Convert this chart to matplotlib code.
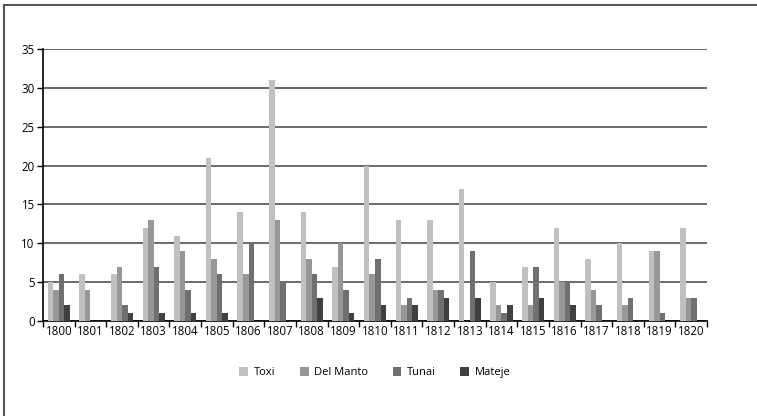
import matplotlib.pyplot as plt
import numpy as np
from matplotlib.lines import Line2D

years = [str(y) for y in range(1800, 1821)]
toxi = [5, 6, 6, 12, 11, 21, 14, 31, 14, 7, 20, 13, 13, 17, 5, 7, 12, 8, 10, 9, 12]
del_manto = [4, 4, 7, 13, 9, 8, 6, 13, 8, 10, 6, 2, 4, 0, 2, 2, 5, 4, 2, 9, 3]
tunai = [6, 0, 2, 7, 4, 6, 10, 5, 6, 4, 8, 3, 4, 9, 1, 7, 5, 2, 3, 1, 3]
mateje = [2, 0, 1, 1, 1, 1, 0, 0, 3, 1, 2, 2, 3, 3, 2, 3, 2, 0, 0, 0, 0]

series = [("Toxi", toxi, "#c0c0c0"), ("Del Manto", del_manto, "#979797"),
          ("Tunai", tunai, "#707070"), ("Mateje", mateje, "#404040")]

plt.rcParams['font.family'] = ['Open Sans', 'DejaVu Sans']

fig = plt.figure(figsize=(7.57, 4.16), dpi=100)
ax = fig.add_axes([43/757, 1-321/416, 664/757, 272/416])

x = np.arange(len(years))
w = 0.175
for i, (name, vals, col) in enumerate(series):
    ax.bar(x + (i - 1.5) * w, vals, w, color=col, label=name, zorder=3)

ax.set_xlim(-0.5, len(years) - 0.5)
ax.set_ylim(0, 35)
ax.set_yticks(range(0, 36, 5))
ax.set_xticks(x)
ax.set_xticklabels(years)
ax.set_xticks(np.arange(-0.5, len(years)), minor=True)
ax.tick_params(axis='x', which='major', length=0, labelsize=8.3, pad=3)
ax.tick_params(axis='x', which='minor', length=4, width=1, direction='out', color='black')
ax.tick_params(axis='y', length=4, width=1, labelsize=8.3, color='black', pad=2)
ax.yaxis.grid(True, color='#505050', linewidth=1.2, zorder=0)
for s in ['top', 'right']:
    ax.spines[s].set_visible(False)
ax.spines['left'].set_linewidth(1.2)
ax.spines['bottom'].set_linewidth(1.2)

ax.legend(loc='center', bbox_to_anchor=(0.5, -0.19), ncol=4, frameon=False,
          fontsize=8, handlelength=0.8, handleheight=0.8, columnspacing=2.2,
          handletextpad=0.5)

# frame around the figure (top and left edges)
fig.add_artist(Line2D([4/757, 1], [1-5/416, 1-5/416], color='#555555', lw=1.5))
fig.add_artist(Line2D([4/757, 4/757], [0, 1-5/416], color='#555555', lw=1.5))

fig.savefig('out.png', dpi=100)
